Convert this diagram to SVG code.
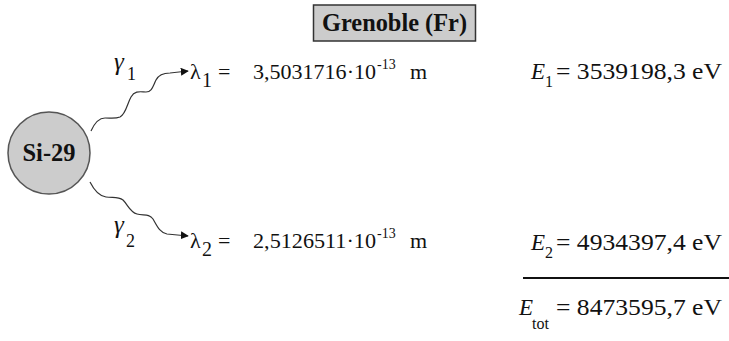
<svg xmlns="http://www.w3.org/2000/svg" width="729" height="341" viewBox="0 0 729 341">
<defs>
<style>
.f{font-family:"Liberation Serif","Times New Roman","DejaVu Serif",serif}
.b{font-weight:bold}
.i{font-style:italic}
.wave{fill:none;stroke:#333;stroke-width:1.2}
</style>
<marker id="ah" viewBox="0 0 10 10" refX="9" refY="5" markerWidth="8" markerHeight="8" markerUnits="userSpaceOnUse" orient="auto">
<path d="M0,0 L10,5 L0,10 Z" fill="#111"/>
</marker>
</defs>
<rect width="729" height="341" fill="#fff"/>
<g class="f" fill="#111">
<g id="title">
<rect x="313.5" y="5" width="162" height="36" fill="#cccccc" stroke="#333" stroke-width="1.5"/>
<text class="b" x="394.5" y="31" font-size="26" text-anchor="middle" textLength="145" lengthAdjust="spacingAndGlyphs">Grenoble (Fr)</text>
</g>
<g id="si29">
<circle cx="49" cy="153" r="41" fill="#cccccc" stroke="#555" stroke-width="1.5"/>
<text class="b" x="49" y="161" font-size="26" text-anchor="middle" textLength="53" lengthAdjust="spacingAndGlyphs">Si-29</text>
</g>
<g id="connectors">
<path class="wave" marker-end="url(#ah)" d="M91,131 C95,122 99,118 105,118 C111,118 115,119 120,117 C126,114 127,104 131,97 C135,90 141,92 146,92 C152,92 153,86 156,80 C159,74 164,73 170,73 L188,71"/>
<path class="wave" marker-end="url(#ah)" d="M90,182 C94,190 99,196 106,197 C113,198 118,196 123,200 C128,205 130,212 137,214 C143,216 149,213 153,219 C157,226 160,233 167,234 L188,236"/>
<text class="i" x="114" y="70" font-size="25">γ</text>
<text x="127" y="80" font-size="18">1</text>
<text class="i" x="114" y="233" font-size="25">γ</text>
<text x="126" y="247" font-size="18">2</text>
</g>
<g id="lambda1">
<text x="190" y="79" font-size="22">λ</text>
<text x="202" y="87" font-size="20">1</text>
<text x="218" y="79" font-size="22">=</text>
<text x="253" y="79" font-size="22" textLength="123" lengthAdjust="spacingAndGlyphs">3,5031716·10</text>
<text x="377" y="69" font-size="14">-13</text>
<text x="410" y="79" font-size="22">m</text>
</g>
<g id="lambda2">
<text x="190" y="248" font-size="22">λ</text>
<text x="202" y="256" font-size="20">2</text>
<text x="218" y="248" font-size="22">=</text>
<text x="253" y="248" font-size="22" textLength="123" lengthAdjust="spacingAndGlyphs">2,5126511·10</text>
<text x="377" y="238" font-size="14">-13</text>
<text x="410" y="248" font-size="22">m</text>
</g>
<g id="e1">
<text class="i" x="531" y="79" font-size="23">E</text>
<text x="545" y="87" font-size="16">1</text>
<text x="556" y="79" font-size="23" textLength="166" lengthAdjust="spacingAndGlyphs">= 3539198,3 eV</text>
</g>
<g id="e2">
<text class="i" x="531" y="250" font-size="23">E</text>
<text x="545" y="258" font-size="16">2</text>
<text x="556" y="250" font-size="23" textLength="166" lengthAdjust="spacingAndGlyphs">= 4934397,4 eV</text>
</g>
<line x1="523" y1="278" x2="729" y2="278" stroke="#111" stroke-width="2"/>
<g id="etot">
<text class="i" x="519" y="315" font-size="23">E</text>
<text x="532" y="329" font-size="16">tot</text>
<text x="556" y="315" font-size="23" textLength="166" lengthAdjust="spacingAndGlyphs">= 8473595,7 eV</text>
</g>
</g>
</svg>
